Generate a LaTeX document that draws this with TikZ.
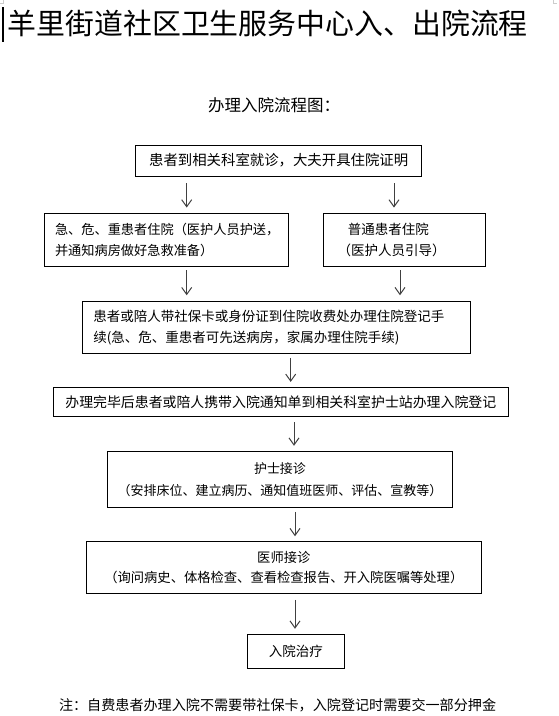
\documentclass[tikz,border=0pt]{standalone}
\usepackage{fontspec}
\setmainfont{Noto Sans CJK SC}
\usetikzlibrary{arrows.meta}
\definecolor{arrowgray}{HTML}{404040}
\tikzset{
  box/.style={draw=black, line width=0.9pt, inner ysep=0pt},
  txt/.style={font={\fontsize{13.5}{21}\selectfont}},
  arr/.style={draw=arrowgray, line width=1pt, -{Straight Barb[length=7pt,width=10pt]}, shorten <=4pt, shorten >=5pt},
}
\begin{document}
\begin{tikzpicture}[x=1pt,y=-1pt]
\useasboundingbox (0,0) rectangle (558,716);
% page marks and cursor bar
\draw[gray!40, line width=0.6pt] (0,3) -- (3,3) -- (3,0);
\draw[gray!40, line width=0.6pt] (553,0) -- (553,3) -- (557,3);
\draw[black, line width=2pt] (2.5,7) -- (2.5,42);
% title
\node[anchor=west, inner sep=0pt, font={\fontsize{28.9}{30}\selectfont}] (title) at (7.5,23.5) {羊里街道社区卫生服务中心入、出院流程};
\node[inner sep=0pt, font={\fontsize{16.5}{18}\selectfont}] (head) at (274,105) {办理入院流程图：};
% boxes
\node[box, txt, minimum width=286pt, minimum height=31pt, font={\fontsize{14.4}{21}\selectfont}] (b1) at (278.7,160.5) {患者到相关科室就诊，大夫开具住院证明};
\node[box, txt, minimum height=53pt, text width=222pt, inner xsep=11pt, align=left, font={\fontsize{13.2}{21}\selectfont}] (b2l) at (166,239.5) {急、危、重患者住院（医护人员护送，\\并通知病房做好急救准备）};
\node[box, txt, minimum height=53pt, text width=133.3pt, inner xsep=14.7pt, align=left] (b2r) at (404.3,239.5) {\hspace*{10.3pt}普通患者住院\\（医护人员引导）};
\node[box, txt, minimum height=51.6pt, text width=365.7pt, inner xsep=11pt, align=left] (b3) at (276.2,327.5) {患者或陪人带社保卡或身份证到住院收费处办理住院登记手\\续(急、危、重患者可先送病房，家属办理住院手续)};
\node[box, txt, minimum width=455pt, minimum height=28.7pt, font={\fontsize{13.9}{21}\selectfont}] (b4) at (280.8,401.7) {办理完毕后患者或陪人携带入院通知单到相关科室护士站办理入院登记};
\node[box, txt, minimum width=345.4pt, minimum height=55.6pt, align=center, font={\fontsize{13}{21.4}\selectfont}] (b5) at (280,479.5) {护士接诊\\（安排床位、建立病历、通知值班医师、评估、宣教等）};
\node[box, txt, minimum width=395.7pt, minimum height=51.6pt, align=center, font={\fontsize{13.3}{20}\selectfont}] (b6) at (283.8,567.5) {医师接诊\\（询问病史、体格检查、查看检查报告、开入院医嘱等处理）};
\node[box, txt, minimum width=97.2pt, minimum height=33.8pt] (b7) at (295.9,651.1) {入院治疗};
\node[txt, inner sep=0pt, font={\fontsize{14.1}{16}\selectfont}] (note) at (277.6,705.4) {注：自费患者办理入院不需要带社保卡，入院登记时需要交一部分押金};
% arrow x positions
\coordinate (x1) at (186.7,0);
\coordinate (x2) at (394,0);
\coordinate (x3) at (400,0);
\coordinate (x5) at (290.7,0);
\coordinate (x6) at (294,0);
\coordinate (x7) at (295,0);
% arrows
\draw[arr, shorten <=7pt] (b1.south -| x1) -- (b2l.north -| x1);
\draw[arr, shorten <=7pt] (b1.south -| x2) -- (b2r.north -| x2);
\draw[arr, shorten >=6pt] (b2l.south -| x1) -- (b3.north -| x1);
\draw[arr, shorten >=6pt] (b2r.south -| x3) -- (b3.north -| x3);
\draw[arr] (b3.south -| x5) -- (b4.north -| x5);
\draw[arr, shorten <=5.5pt, shorten >=5.5pt] (b4.south -| x6) -- (b5.north -| x6);
\draw[arr] (b5.south -| x7) -- (b6.north -| x7);
\draw[arr, shorten <=6pt] (b6.south -| x7) -- (b7.north -| x7);
\end{tikzpicture}
\end{document}
